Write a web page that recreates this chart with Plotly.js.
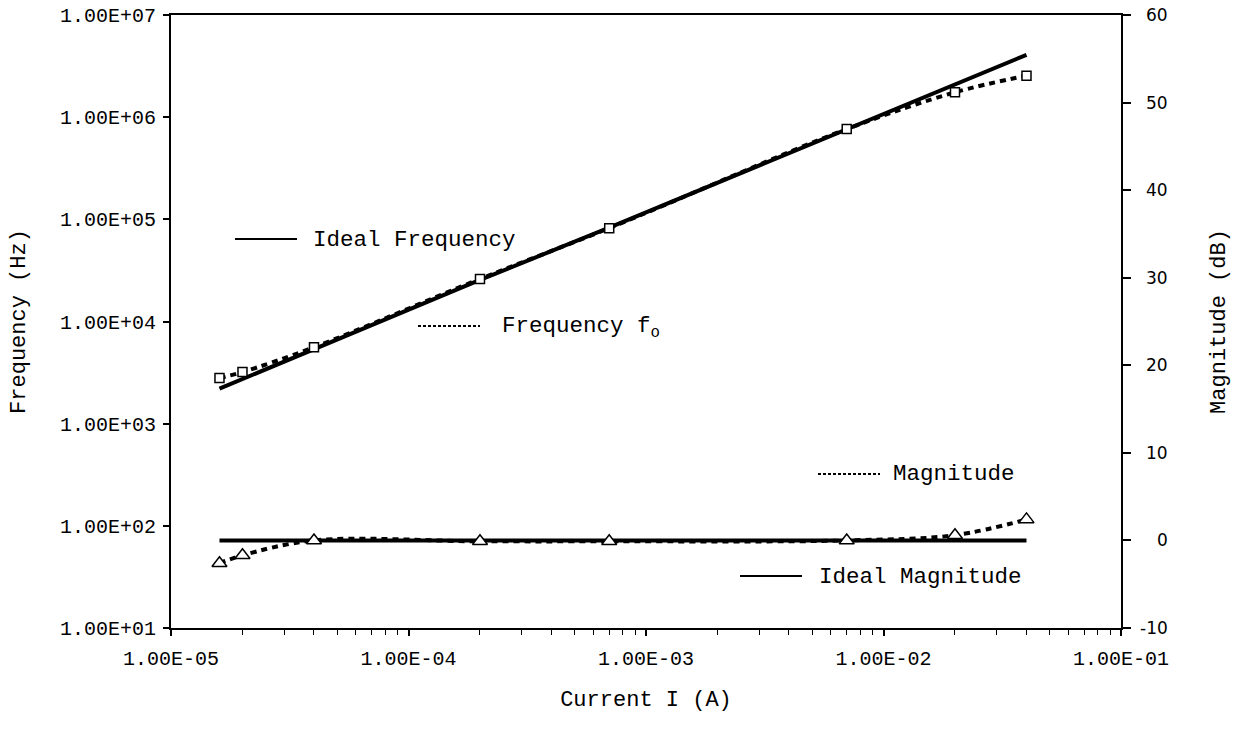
<!DOCTYPE html>
<html>
<head>
<meta charset="utf-8">
<script src="https://cdn.plot.ly/plotly-3.0.1.min.js"></script>
<style>html,body{margin:0;padding:0;background:#fff;}#chart{width:1236px;height:738px;}</style>
</head>
<body>
<div id="chart"></div>
<script>
// ---- data ----
var current = [1.6e-5, 2e-5, 4e-5, 2e-4, 7e-4, 7e-3, 2e-2, 4e-2];          // Current I (A)
var freqIdeal = [2200, 2730, 5350, 25500, 83000, 765000, 2090000, 4080000]; // Ideal Frequency (Hz)
var freqMeasured = [2800, 3200, 5600, 26100, 82000, 765000, 1750000, 2550000]; // Frequency fo (Hz)
var magIdeal = [0, 0, 0, 0, 0, 0, 0, 0];                                    // Ideal Magnitude (dB)
var magMeasured = [-2.6, -1.7, 0, -0.1, -0.1, 0, 0.6, 2.4];                 // Magnitude (dB)

var xTickVals = [1e-5, 1e-4, 1e-3, 1e-2, 1e-1];
var xTickText = ['1.00E-05', '1.00E-04', '1.00E-03', '1.00E-02', '1.00E-01'];
var yTickVals = [1e1, 1e2, 1e3, 1e4, 1e5, 1e6, 1e7];
var yTickText = ['1.00E+01', '1.00E+02', '1.00E+03', '1.00E+04', '1.00E+05', '1.00E+06', '1.00E+07'];
var y2TickVals = [-10, 0, 10, 20, 30, 40, 50, 60];
var y2TickText = ['-10', '0', '10', '20', '30', '40', '50', '60'];

var labelIdealFreq = 'Ideal Frequency';
var labelFreq = 'Frequency f<sub>o</sub>';
var labelMag = 'Magnitude';
var labelIdealMag = 'Ideal Magnitude';

// minor ticks of the log x axis (2..9 in each decade)
var xMinor = [];
for (var d = -5; d < -1; d++) {
  for (var k = 2; k <= 9; k++) xMinor.push(k * Math.pow(10, d));
}

var MONO = 'Courier New, Liberation Mono, monospace';

var traces = [
  {x: current, y: freqIdeal, yaxis: 'y', type: 'scatter', mode: 'lines',
   line: {color: '#000', width: 4}, name: labelIdealFreq, showlegend: false},
  {x: current, y: magIdeal, yaxis: 'y2', type: 'scatter', mode: 'lines',
   line: {color: '#000', width: 4}, name: labelIdealMag, showlegend: false},
  {x: current, y: freqMeasured, yaxis: 'y', type: 'scatter', mode: 'lines+markers',
   line: {color: '#000', width: 4, dash: '6px,5px', shape: 'spline'},
   marker: {symbol: 'square', size: 9, color: '#fff', line: {color: '#000', width: 1.5}},
   name: labelFreq, showlegend: false},
  {x: current, y: magMeasured, yaxis: 'y2', type: 'scatter', mode: 'lines+markers',
   line: {color: '#000', width: 4, dash: '6px,5px', shape: 'spline'},
   marker: {symbol: 'triangle-up', size: 13, color: '#fff', line: {color: '#000', width: 1.5}},
   name: labelMag, showlegend: false}
];

function px(v) { return (v - 171) / 950; }
function py(v) { return (628 - v) / 613; }

var legendItems = [
  {text: labelIdealFreq, x0: 235, x1: 297, ly: 239, tx: 311, ty: 240, dash: 'solid'},
  {text: labelFreq, x0: 418, x1: 480, ly: 326, tx: 500, ty: 327, dash: '3px,2px'},
  {text: labelMag, x0: 818, x1: 880, ly: 474, tx: 891, ty: 474, dash: '3px,2px'},
  {text: labelIdealMag, x0: 740, x1: 802, ly: 576, tx: 817, ty: 577, dash: 'solid'}
];

var shapes = [], annotations = [];
legendItems.forEach(function (it) {
  shapes.push({type: 'line', xref: 'paper', yref: 'paper',
    x0: px(it.x0), x1: px(it.x1), y0: py(it.ly), y1: py(it.ly),
    line: {color: '#000', width: 2, dash: it.dash}});
  annotations.push({xref: 'paper', yref: 'paper', x: px(it.tx), y: py(it.ty),
    xanchor: 'left', yanchor: 'middle', showarrow: false, text: it.text,
    font: {family: MONO, size: 22.5, color: '#000'}});
});

// right-axis tick labels, right-aligned as in the reference
y2TickVals.forEach(function (v, i) {
  annotations.push({xref: 'paper', yref: 'y2', x: px(1170), y: v,
    xanchor: 'right', yanchor: 'middle', showarrow: false, text: y2TickText[i],
    font: {family: 'DejaVu Sans, sans-serif', size: 17, color: '#000'}});
});

var layout = {
  width: 1236, height: 738,
  margin: {l: 171, r: 115, t: 15, b: 110},
  paper_bgcolor: '#fff', plot_bgcolor: '#fff',
  showlegend: false,
  font: {family: MONO, color: '#000'},
  xaxis: {
    type: 'log', range: [-5, -1], tickmode: 'array', tickvals: xTickVals, ticktext: xTickText,
    ticks: 'outside', ticklen: 6, tickwidth: 2, tickcolor: '#000',
    showline: true, linecolor: '#000', linewidth: 2, mirror: true,
    showgrid: false, zeroline: false,
    tickfont: {family: MONO, size: 20, color: '#000'},
    ticklabelstandoff: 5,
    minor: {tickmode: 'array', tickvals: xMinor, ticks: 'outside', ticklen: 5, tickwidth: 1, tickcolor: '#000', showgrid: false},
    title: {text: 'Current I (A)', font: {family: MONO, size: 22, color: '#000'}, standoff: 21},
    automargin: false
  },
  yaxis: {
    type: 'log', range: [1, 7], tickmode: 'array', tickvals: yTickVals, ticktext: yTickText,
    ticks: 'outside', ticklen: 6, tickwidth: 2, tickcolor: '#000',
    showline: true, linecolor: '#000', linewidth: 2,
    showgrid: false, zeroline: false,
    tickfont: {family: MONO, size: 20, color: '#000'},
    ticklabelstandoff: 3,
    title: {text: 'Frequency (Hz)', font: {family: MONO, size: 22, color: '#000'}, standoff: 28},
    automargin: false
  },
  yaxis2: {
    overlaying: 'y', side: 'right', range: [-10, 60], tickmode: 'array',
    tickvals: y2TickVals, ticktext: y2TickText, showticklabels: false,
    ticks: 'outside', ticklen: 8, tickwidth: 2, tickcolor: '#000',
    showline: true, linecolor: '#000', linewidth: 2,
    showgrid: false, zeroline: false,
    tickfont: {family: 'DejaVu Sans, sans-serif', size: 17, color: '#000'},
    title: {text: 'Magnitude (dB)', font: {family: MONO, size: 22, color: '#000'}, standoff: 80},
    automargin: false
  },
  shapes: shapes,
  annotations: annotations
};

Plotly.newPlot('chart', traces, layout, {displayModeBar: false, staticPlot: true});
</script>
</body>
</html>
